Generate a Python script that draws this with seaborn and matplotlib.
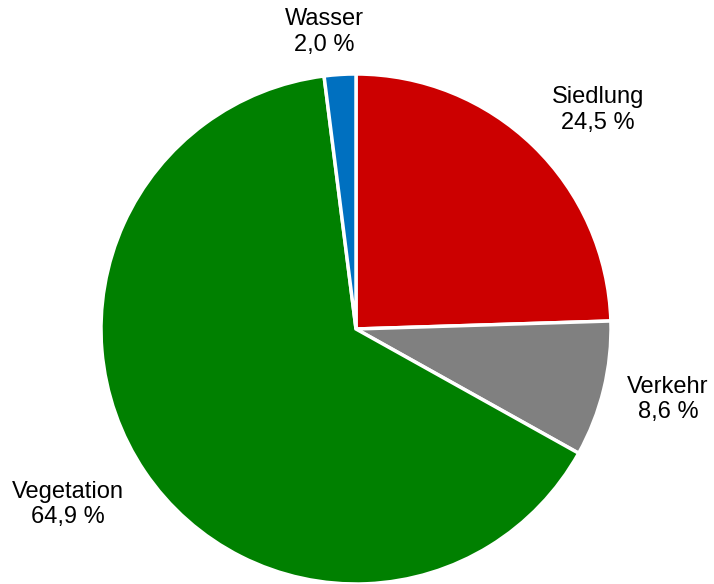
import numpy as np
import matplotlib
matplotlib.use("Agg")
import matplotlib.pyplot as plt
import seaborn as sns

categories = ["Siedlung", "Verkehr", "Vegetation", "Wasser"]
values = [24.5, 8.6, 64.9, 2.0]
colors = ["#CC0000", "#808080", "#008000", "#0070C0"]
label_dist = [1.28, 1.255, 1.323, 1.171]
label_dang = [-3.8, 0.9, -2.7, 2.5]

sns.set_theme(style="white")
plt.rcParams["font.family"] = ["Liberation Sans", "DejaVu Sans"]

fig = plt.figure(figsize=(7.14, 5.84), dpi=100)
R = 255
cx, cy = 356, 584 - 329
ax = fig.add_axes([(cx - R) / 714, (cy - R) / 584, 2 * R / 714, 2 * R / 584])

wedges, _ = ax.pie(values, colors=colors, startangle=90, counterclock=False,
                   wedgeprops=dict(edgecolor="white", linewidth=2.5), radius=1)
ax.set_xlim(-1, 1)
ax.set_ylim(-1, 1)
ax.set_aspect("equal")
ax.axis("off")

for w, name, v, d, da in zip(wedges, categories, values, label_dist, label_dang):
    ang = np.deg2rad((w.theta1 + w.theta2) / 2 + da)
    txt = f"{name}\n{v:.1f} %".replace(".", ",")
    ax.text(d * np.cos(ang), d * np.sin(ang), txt, ha="center", va="center",
            fontsize=17, color="black", linespacing=1.2, clip_on=False)

fig.savefig("out.png", dpi=100)
